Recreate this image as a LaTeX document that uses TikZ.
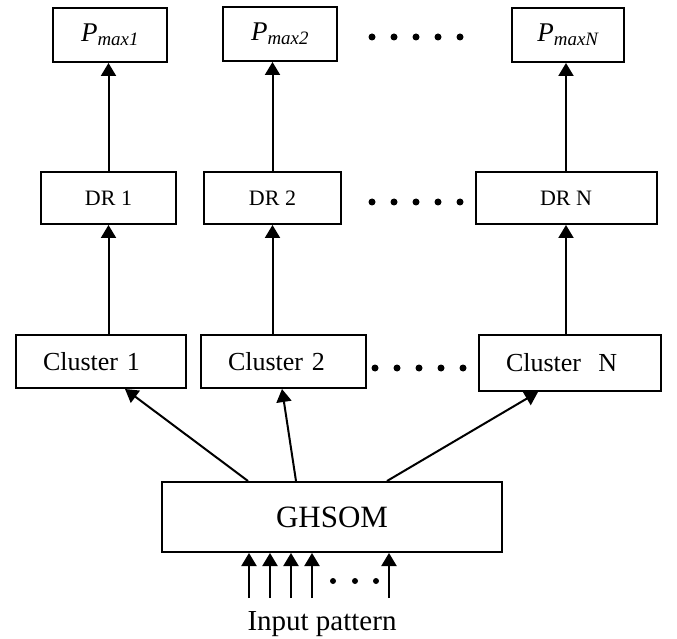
\documentclass[tikz,border=0pt]{standalone}
\usepackage{fontspec}
\setmainfont{Liberation Serif}
\usetikzlibrary{arrows.meta,calc}

\tikzset{
  box/.style={draw, line width=2pt, inner sep=0pt},
  outbox/.style={box, minimum width=114pt, minimum height=54pt, font=\fontsize{27}{30}\selectfont\itshape},
  drbox/.style={box, minimum height=52pt, font=\fontsize{22}{25}\selectfont},
  clbox/.style={box, minimum height=53pt, inner xsep=27pt, align=left, font=\fontsize{26}{30}\selectfont},
  arr/.style={-{Triangle[length=13pt,width=15pt]}, line width=2pt},
}

\begin{document}
\begin{tikzpicture}[x=1pt, y=1pt]
    \useasboundingbox (0,0) rectangle (677,638);
    % outputs
    \node [outbox] (pm1) at (110,603) {P\textsubscript{max1}};
    \node [outbox] (pm2) at (280,604) {P\textsubscript{max2}};
    \node [outbox, minimum width=112pt] (pmN) at (568,603) {P\textsubscript{maxN}};
    % DR blocks
    \node [drbox, minimum width=135pt] (dr1) at (108.5,440) {DR 1};
    \node [drbox, minimum width=137pt] (dr2) at (272.5,440) {DR 2};
    \node [drbox, minimum width=181pt] (drN) at (566,440) {DR N};
    % clusters
    \node [clbox, text width=116pt] (cl1) at (101,276.5) {Cluster 1};
    \node [clbox, text width=111pt] (cl2) at (283.5,276.5) {Cluster 2};
    \node [clbox, text width=128pt, minimum height=56pt] (clN) at (570,275) {Cluster~~N};
    \node [box, minimum width=340pt, minimum height=70pt, font=\fontsize{31}{36}\selectfont] (gh) at (332,121) {GHSOM};
    \node [font=\fontsize{29}{34}\selectfont] (inp) at (322,14) {Input pattern};
    % vertical links
    \foreach \c in {1,2,N} {
        \draw [arr] (dr\c.north) -- (dr\c.north |- pm\c.south);
        \draw [arr] (cl\c.north -| dr\c.south) -- (dr\c.south);
    }
    \draw [arr] ([xshift=-84pt]gh.north) -- ([xshift=24pt]cl1.south);
    \draw [arr] ([xshift=-36pt]gh.north) -- ([xshift=-1.5pt]cl2.south);
    \draw [arr] ([xshift=55pt]gh.north) -- ([xshift=-32pt]clN.south);
    % input lines
    \foreach \x [count=\i] in {249,270,291,312,389} {
        \coordinate (in\i) at (\x,40);
        \draw [arr] (in\i) -- (in\i |- gh.south);
    }
    % dots
    \foreach \x in {372,394,416,438,460} {
        \fill (\x,601) circle (3.5pt);
        \fill (\x,436) circle (3.5pt);
        \fill (\x+3,270) circle (3.5pt);
    }
    \foreach \x in {333,355,376} \fill (\x,57) circle (3pt);
\end{tikzpicture}
\end{document}
